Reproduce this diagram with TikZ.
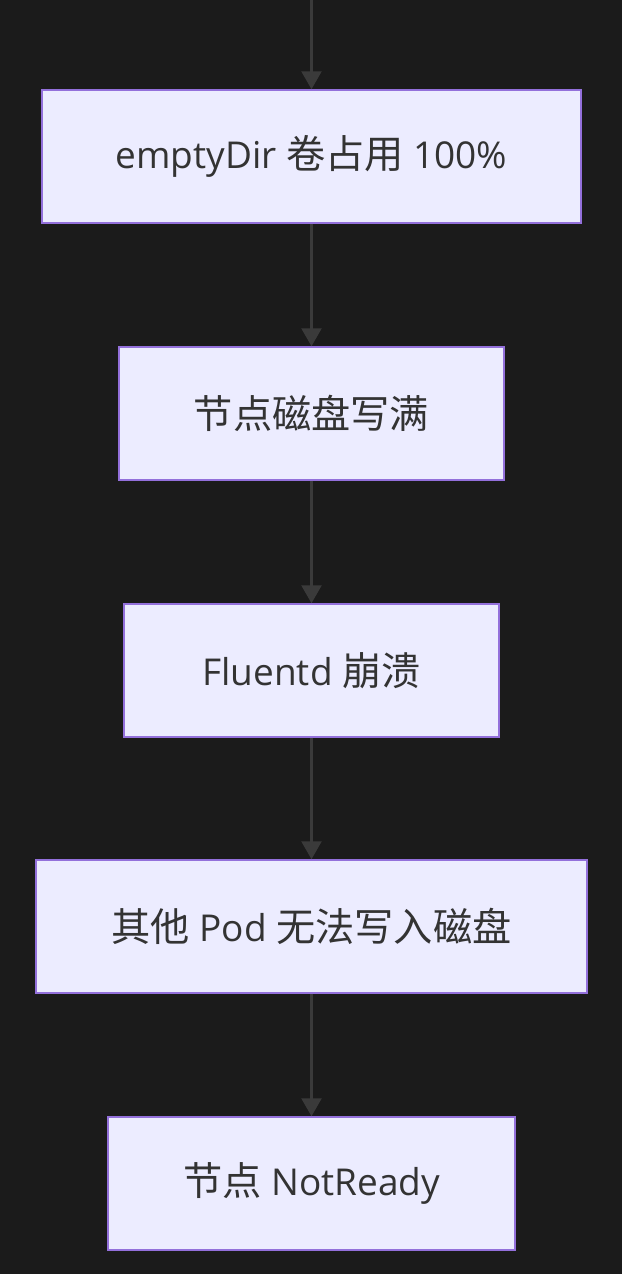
\documentclass[tikz,border=0pt]{standalone}
\usepackage{fontspec}
\setmainfont{Open Sans}
\newfontfamily\cjk[Scale=1.06]{Noto Sans CJK SC}
\usetikzlibrary{arrows.meta}
\definecolor{bgc}{HTML}{1B1B1B}
\definecolor{boxfill}{HTML}{ECECFF}
\definecolor{boxline}{HTML}{9370DB}
\definecolor{arrowc}{HTML}{3A3A3A}
\definecolor{txt}{HTML}{333333}
\tikzset{
  flowbox/.style={draw=boxline, line width=1.5pt, fill=boxfill, minimum height=133pt, inner sep=0pt, text=txt, font=\fontsize{37}{43}\selectfont},
  flowarrow/.style={draw=arrowc, line width=2.4pt, -{Triangle[length=18pt,width=20pt]}}
}
\begin{document}
\begin{tikzpicture}[x=1pt,y=-1pt]
\useasboundingbox[fill=bgc] (0,0) rectangle (622,1274);
\coordinate (top) at (311.5,0);
\node[flowbox, minimum width=539pt] (a) at (311.5,156.5) {emptyDir {\cjk 卷占用} 100\%};
\node[flowbox, minimum width=385pt] (b) at (311.5,413.5) {\cjk 节点磁盘写满};
\node[flowbox, minimum width=375pt] (c) at (311.5,670.5) {Fluentd {\cjk 崩溃}};
\node[flowbox, minimum width=551pt] (d) at (311.5,926.5) {{\cjk 其他} Pod {\cjk 无法写入磁盘}};
\node[flowbox, minimum width=407pt] (e) at (311.5,1183.5) {{\cjk 节点} NotReady};
\draw[flowarrow] (top) -- (a.north);
\draw[flowarrow] (a) -- (b);
\draw[flowarrow] (b) -- (c);
\draw[flowarrow] (c) -- (d);
\draw[flowarrow] (d) -- (e);
\end{tikzpicture}
\end{document}
